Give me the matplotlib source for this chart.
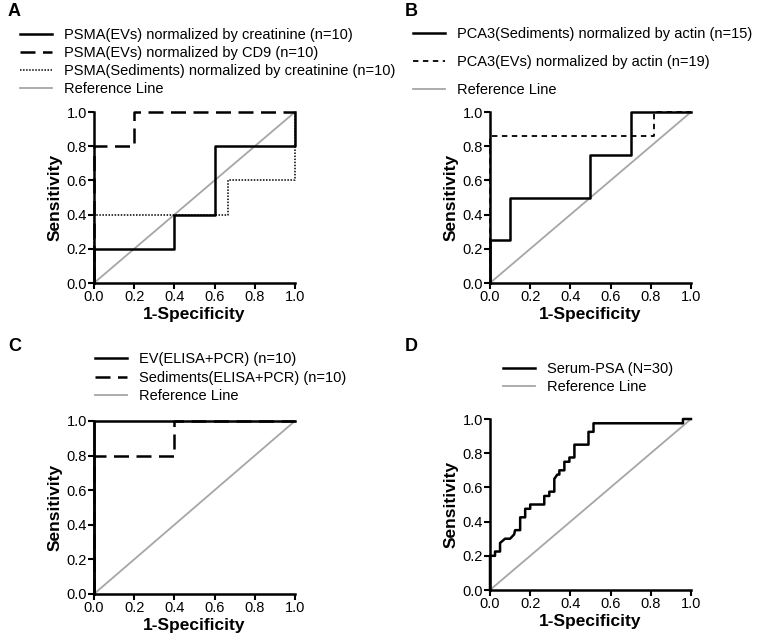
import matplotlib.pyplot as plt

plt.rcParams['font.family'] = ['Liberation Sans', 'DejaVu Sans']

# Panel A
a_label_solid = "PSMA(EVs) normalized by creatinine (n=10)"
a_fpr_solid = [0, 0, 0.4, 0.4, 0.6, 0.6, 1.0, 1.0]
a_tpr_solid = [0, 0.2, 0.2, 0.4, 0.4, 0.8, 0.8, 1.0]
a_label_dash = "PSMA(EVs) normalized by CD9 (n=10)"
a_fpr_dash = [0, 0, 0.2, 0.2, 1.0]
a_tpr_dash = [0, 0.8, 0.8, 1.0, 1.0]
a_label_dot = "PSMA(Sediments) normalized by creatinine (n=10)"
a_fpr_dot = [0, 0, 0.667, 0.667, 1.0, 1.0]
a_tpr_dot = [0, 0.4, 0.4, 0.6, 0.6, 1.0]

# Panel B
b_label_solid = "PCA3(Sediments) normalized by actin (n=15)"
b_fpr_solid = [0, 0, 0.1, 0.1, 0.5, 0.5, 0.7, 0.7, 1.0]
b_tpr_solid = [0, 0.25, 0.25, 0.5, 0.5, 0.75, 0.75, 1.0, 1.0]
b_label_dash = "PCA3(EVs) normalized by actin (n=19)"
b_fpr_dash = [0, 0, 0.818, 0.818, 1.0]
b_tpr_dash = [0, 0.857, 0.857, 1.0, 1.0]

# Panel C
c_label_solid = "EV(ELISA+PCR) (n=10)"
c_fpr_solid = [0, 0, 1.0]
c_tpr_solid = [0, 1.0, 1.0]
c_label_dash = "Sediments(ELISA+PCR) (n=10)"
c_fpr_dash = [0, 0, 0.4, 0.4, 1.0]
c_tpr_dash = [0, 0.8, 0.8, 1.0, 1.0]

# Panel D
d_label = "Serum-PSA (N=30)"
d_fpr = [0, 0, 0.025, 0.025, 0.05, 0.05, 0.075, 0.10, 0.12, 0.125, 0.15, 0.15,
         0.175, 0.175, 0.2, 0.2, 0.27, 0.27, 0.295, 0.295, 0.32, 0.32, 0.335,
         0.345, 0.345, 0.37, 0.37, 0.395, 0.395, 0.42, 0.42, 0.49, 0.49,
         0.515, 0.515, 0.96, 0.96, 1.0]
d_tpr = [0, 0.2, 0.2, 0.225, 0.225, 0.275, 0.3, 0.3, 0.325, 0.35, 0.35, 0.425,
         0.425, 0.475, 0.475, 0.5, 0.5, 0.55, 0.55, 0.575, 0.575, 0.65, 0.675,
         0.675, 0.70, 0.70, 0.75, 0.75, 0.775, 0.775, 0.85, 0.85, 0.925,
         0.925, 0.975, 0.975, 1.0, 1.0]

ref_label = "Reference Line"
GRAY = '#a6a6a6'
ticks = [0.0, 0.2, 0.4, 0.6, 0.8, 1.0]

fig = plt.figure(figsize=(7.61, 6.34), dpi=100)


def setup(ax):
    ax.set_xlim(0, 1)
    ax.set_ylim(0, 1)
    for s in ['top', 'right']:
        ax.spines[s].set_visible(False)
    for s in ['left', 'bottom']:
        ax.spines[s].set_linewidth(1.8)
    ax.set_xticks(ticks)
    ax.set_yticks(ticks)
    ax.set_xticklabels(["%.1f" % t for t in ticks])
    ax.set_yticklabels(["%.1f" % t for t in ticks])
    ax.tick_params(direction='out', length=4, width=1.5, labelsize=10.5, pad=1)
    ax.set_xlabel("1-Specificity", fontsize=12.5, fontweight='bold', labelpad=2)
    ax.set_ylabel("Sensitivity", fontsize=12.5, fontweight='bold', labelpad=3)


def legend(ax, x, y, spacing):
    fig.legend(*ax.get_legend_handles_labels(), loc='upper left',
               bbox_to_anchor=(x / 761, 1 - y / 634), frameon=False,
               fontsize=10.5, handlelength=2.2, handletextpad=0.8,
               labelspacing=spacing, borderpad=0, borderaxespad=0)


# A
axA = fig.add_axes([0.1235, 0.5536, 0.2641, 0.2697])
axA.plot(a_fpr_solid, a_tpr_solid, color='black', lw=1.8, label=a_label_solid, clip_on=False, zorder=4)
axA.plot(a_fpr_dash, a_tpr_dash, color='black', lw=1.8, dashes=(6, 3), label=a_label_dash, clip_on=False, zorder=3)
axA.plot(a_fpr_dot, a_tpr_dot, color='black', lw=1.1, linestyle=(0, (1, 1)), label=a_label_dot, clip_on=False, zorder=3)
axA.plot([0, 1], [0, 1], color=GRAY, lw=1.3, label=ref_label, zorder=2)
setup(axA)
legend(axA, 20, 28, 0.28)

# B
axB = fig.add_axes([0.6439, 0.5536, 0.2641, 0.2697])
axB.plot(b_fpr_solid, b_tpr_solid, color='black', lw=1.8, label=b_label_solid, clip_on=False, zorder=4)
axB.plot(b_fpr_dash, b_tpr_dash, color='black', lw=1.3, dashes=(3, 2.5), label=b_label_dash, clip_on=False, zorder=3)
axB.plot([0, 1], [0, 1], color=GRAY, lw=1.3, label=ref_label, zorder=2)
setup(axB)
legend(axB, 413, 27, 0.95)

# C
axC = fig.add_axes([0.1235, 0.0631, 0.2641, 0.2729])
axC.plot(c_fpr_solid, c_tpr_solid, color='black', lw=1.8, label=c_label_solid, clip_on=False, zorder=4)
axC.plot(c_fpr_dash, c_tpr_dash, color='black', lw=1.8, dashes=(6, 3), label=c_label_dash, clip_on=False, zorder=3)
axC.plot([0, 1], [0, 1], color=GRAY, lw=1.3, label=ref_label, zorder=2)
setup(axC)
legend(axC, 95, 352, 0.32)

# D
axD = fig.add_axes([0.6439, 0.0694, 0.2641, 0.2697])
axD.plot(d_fpr, d_tpr, color='black', lw=1.8, label=d_label, clip_on=False, zorder=4)
axD.plot([0, 1], [0, 1], color=GRAY, lw=1.3, label=ref_label, zorder=2)
setup(axD)
legend(axD, 503, 362, 0.25)

# panel letters
for letter, x, y in [("A", 8, 12), ("B", 405, 12), ("C", 8, 346), ("D", 405, 346)]:
    fig.text(x / 761, 1 - y / 634, letter, fontsize=13, fontweight='bold', va='center', ha='left')

fig.savefig("out.png", dpi=100)
